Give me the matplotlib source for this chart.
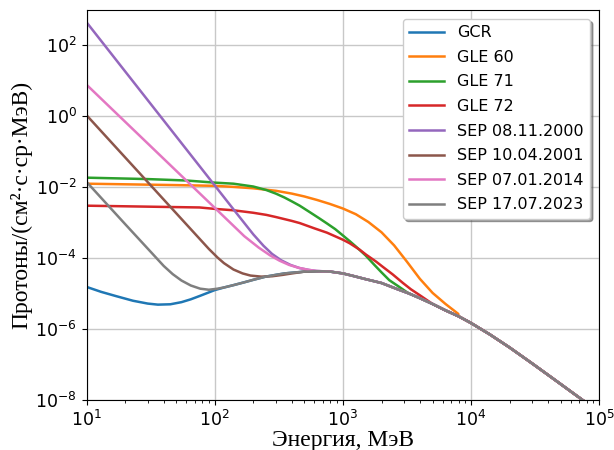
import matplotlib
matplotlib.use('Agg')
import matplotlib.pyplot as plt
import numpy as np
from matplotlib.ticker import NullLocator

# common high-energy spectrum (all curves merge into it), MeV / log10 flux
e_tail = [140, 170, 200, 250, 300, 350, 400, 500, 600, 700, 800, 1000, 1200, 1500,
          2000, 2600, 3300, 4000, 5000, 6300, 8000, 10000, 14000, 20000, 30000,
          45000, 65000, 90000]
f_tail = [-4.76, -4.68, -4.61, -4.52, -4.47, -4.43, -4.41, -4.38, -4.37, -4.37,
          -4.38, -4.43, -4.50, -4.59, -4.70, -4.86, -5.00, -5.13, -5.29, -5.47,
          -5.64, -5.83, -6.15, -6.52, -6.97, -7.43, -7.85, -8.22]

# low-energy parts (log10 flux)
e_gcr = [10, 13, 17, 23, 30, 36, 45, 55, 65, 77, 100, 120]
f_gcr = [-4.81, -4.95, -5.07, -5.20, -5.28, -5.31, -5.30, -5.24, -5.16, -5.06, -4.90, -4.82]

e_gle60 = [10, 50, 100, 140, 200, 300, 400, 500, 630, 790, 1000, 1260, 1580, 2000,
           2510, 3160, 3980, 5010, 6310, 7940]
f_gle60 = [-1.90, -1.94, -1.96, -1.99, -2.03, -2.10, -2.18, -2.26, -2.36, -2.47,
           -2.60, -2.76, -2.98, -3.27, -3.64, -4.10, -4.58, -4.98, -5.29, -5.57]

e_gle71 = [10, 30, 60, 100, 140, 200, 253, 300, 350, 400, 460, 550, 650, 750, 870,
           1000, 1130, 1270, 1500, 1750, 2000, 2300, 2700, 3100]
f_gle71 = [-1.73, -1.77, -1.81, -1.87, -1.90, -1.98, -2.08, -2.18, -2.29, -2.40,
           -2.52, -2.70, -2.87, -3.02, -3.18, -3.36, -3.52, -3.68, -3.92, -4.18,
           -4.40, -4.62, -4.79, -4.94]

e_gle72 = [10, 50, 76, 100, 140, 200, 253, 300, 400, 460, 600, 750, 1000, 1130,
           1350, 1515, 1820, 2040, 2450, 2940, 3400, 4000, 4600]
f_gle72 = [-2.52, -2.56, -2.57, -2.61, -2.65, -2.72, -2.78, -2.84, -2.95, -3.01,
           -3.16, -3.28, -3.48, -3.58, -3.76, -3.90, -4.10, -4.24, -4.46, -4.70,
           -4.88, -5.05, -5.20]

e_sep2000 = [10, 100, 150, 200, 240, 280, 330, 390, 460, 540, 620, 700, 800]
f_sep2000 = [2.65, -1.95, -2.76, -3.33, -3.65, -3.88, -4.06, -4.19, -4.28, -4.33,
             -4.36, -4.37, -4.38]

e_sep2001 = [10, 90, 105, 118, 140, 165, 190, 230, 280, 340, 400]
f_sep2001 = [0.03, -3.74, -3.98, -4.14, -4.32, -4.43, -4.49, -4.52, -4.51, -4.47, -4.43]

e_sep2014 = [10, 100, 170, 220, 270, 320, 380, 450, 540, 620, 700, 800]
f_sep2014 = [0.89, -2.58, -3.38, -3.70, -3.92, -4.07, -4.19, -4.27, -4.33, -4.36,
             -4.37, -4.38]

e_sep2023 = [10, 20, 30, 40, 47, 55, 65, 77, 90, 105, 120]
f_sep2023 = [-1.85, -3.04, -3.73, -4.22, -4.45, -4.63, -4.77, -4.86, -4.89, -4.86, -4.82]

series = [(e_gcr, f_gcr, 'GCR'),
          (e_gle60, f_gle60, 'GLE 60'),
          (e_gle71, f_gle71, 'GLE 71'),
          (e_gle72, f_gle72, 'GLE 72'),
          (e_sep2000, f_sep2000, 'SEP 08.11.2000'),
          (e_sep2001, f_sep2001, 'SEP 10.04.2001'),
          (e_sep2014, f_sep2014, 'SEP 07.01.2014'),
          (e_sep2023, f_sep2023, 'SEP 17.07.2023')]

fig = plt.figure(figsize=(6.14, 4.5), dpi=100)
ax = fig.add_axes([0.141, 0.111, 0.835, 0.867])

for e_low, f_low, lab in series:
    # join own low-energy part with the shared tail above it
    e = list(e_low) + [x for x in e_tail if x > e_low[-1]]
    f = list(f_low) + [y for x, y in zip(e_tail, f_tail) if x > e_low[-1]]
    ax.plot(e, 10.0 ** np.array(f), lw=1.8, label=lab)

ax.set_xscale('log')
ax.set_yscale('log')
ax.set_xlim(10, 1e5)
ax.set_ylim(1e-8, 1e3)
ax.set_yticks([1e-8, 1e-6, 1e-4, 1e-2, 1e0, 1e2])
ax.yaxis.set_minor_locator(NullLocator())
ax.tick_params(labelsize=12.5)
ax.grid(True, which='major', color='#c8c8c8', lw=1)

ax.set_xlabel('Энергия, МэВ', fontsize=17, family='Liberation Serif', labelpad=0)
ax.set_ylabel('Протоны/(см²·с·ср·МэВ)', fontsize=17, family='Liberation Serif', labelpad=2)

ax.legend(loc='upper right', fontsize=11.5, shadow=True, handlelength=2.2,
          labelspacing=0.6, bbox_to_anchor=(0.982, 0.977), borderaxespad=0)

plt.savefig('out.png', dpi=100)
